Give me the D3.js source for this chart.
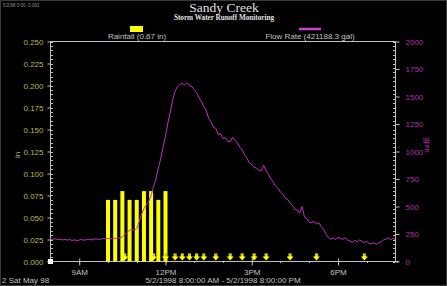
<!DOCTYPE html>
<html>
<head>
<meta charset="utf-8">
<script src="https://cdn.jsdelivr.net/npm/d3@7"></script>
<style>
  html, body { margin: 0; padding: 0; background: #000; }
  svg { display: block; font-family: "Liberation Sans", Arial, sans-serif; }
</style>
</head>
<body>
<svg id="chart" width="447" height="286"></svg>
<script>
// ---- data ----
const dayStart = new Date(1998, 4, 2, 8, 0);
const dayEnd = new Date(1998, 4, 2, 20, 0);

// rainfall, inches per 15 min, starting 10:00
const rainStart = new Date(1998, 4, 2, 10, 0);
const rainStepMin = 15;
const rainValues = [0.07, 0.07, 0.08, 0.07, 0.07, 0.08, 0.08, 0.07, 0.08];

// flow rate, gpm, every 5 min from 8:00
const flowStepMin = 5;
const flowValues = [
  205, 200, 208, 198, 203, 196, 201, 194, 199, 192, 197, 190, 195,
  200, 193, 198, 203, 196, 201, 206, 199, 204, 209, 205,
  210, 206, 212, 208, 215, 212, 225, 245, 262, 285, 292, 282,
  300, 360, 430, 480, 515, 545, 600, 680, 750, 850, 935, 1040,
  1140, 1260, 1360, 1470, 1550, 1590, 1610, 1620, 1605, 1625, 1600, 1590,
  1560, 1535, 1490, 1455, 1410, 1375, 1300, 1270, 1220, 1210, 1155, 1160,
  1120, 1125, 1090, 1090, 1130, 1100, 1080, 1040, 1015, 970, 940, 895,
  885, 855, 850, 825, 825, 875, 825, 790, 750, 720, 685, 665,
  630, 610, 575, 565, 530, 510, 475, 468, 440, 500, 405, 390,
  355, 355, 362, 342, 352, 318, 292, 248, 218, 202, 214, 198,
  224, 208, 202, 214, 196, 186, 174, 192, 178, 196, 183, 172,
  182, 163, 162, 170, 156, 170, 178, 196, 203, 214, 198, 211,
  195
];

// sampler bottle markers
const sampleTimes = ['10:35', '11:35', '12:00', '12:20', '12:35', '12:50', '13:05', '13:20',
  '13:45', '14:15', '14:40', '15:05', '15:30', '16:20', '17:15', '18:55'];
const sampleLabels = ['1', '2', '3', '4', '5', '6', '7', '8', '9', '10', '11', '12', '13', '14', '15', '16'];

const leftTicks = [0, 0.025, 0.05, 0.075, 0.1, 0.125, 0.15, 0.175, 0.2, 0.225, 0.25];
const rightTicks = [0, 250, 500, 750, 1000, 1250, 1500, 1750, 2000];
const timeTickLabels = ['9AM', '12PM', '3PM', '6PM'];

// ---- layout ----
const L = 50.5, R = 395.5, T = 41.5, B = 261.5;
const grey = '#c0c0c0';
const rainCol = '#ffff00';
const flowCol = '#c030c0';
const leftLab = '#b8b850';
const rightLab = '#b030b0';

const svg = d3.select('#chart');
svg.append('rect').attr('x', 0.5).attr('y', 0.5).attr('width', 446).attr('height', 285)
  .attr('fill', '#000').attr('stroke', '#3a3a3a');

const x = d3.scaleTime().domain([dayStart, dayEnd]).range([L, R]);
const yL = d3.scaleLinear().domain([0, 0.25]).range([B, T]);
const yR = d3.scaleLinear().domain([0, 2000]).range([B, T]);
const addMin = (d, m) => new Date(d.getTime() + m * 60000);
const parseT = s => { const [h, m] = s.split(':').map(Number); return new Date(1998, 4, 2, h, m); };

// titles
svg.append('text').attr('x', 3).attr('y', 7).attr('font-size', 4.5).attr('fill', '#909090')
  .text('5/2/98 0:00, 0.000');
svg.append('text').attr('x', 224).attr('y', 12).attr('text-anchor', 'middle')
  .attr('font-family', '"Liberation Serif", "Times New Roman", serif').attr('font-size', 13.5)
  .attr('fill', '#e0e0e0').text('Sandy Creek');
svg.append('text').attr('x', 224).attr('y', 19.5).attr('text-anchor', 'middle')
  .attr('font-family', '"Liberation Serif", "Times New Roman", serif').attr('font-size', 7.2)
  .attr('font-weight', 'bold').attr('fill', '#e0e0e0').text('Storm Water Runoff Monitoring');

// legend
svg.append('rect').attr('x', 130).attr('y', 26).attr('width', 13).attr('height', 6).attr('fill', rainCol);
svg.append('text').attr('x', 137).attr('y', 38.5).attr('text-anchor', 'middle').attr('font-size', 8)
  .attr('fill', grey).text('Rainfall (0.67 in)');
svg.append('line').attr('x1', 299).attr('x2', 321).attr('y1', 29).attr('y2', 29)
  .attr('stroke', '#d040d0').attr('stroke-width', 2.5);
svg.append('text').attr('x', 310).attr('y', 38.5).attr('text-anchor', 'middle').attr('font-size', 8)
  .attr('fill', grey).text('Flow Rate (421188.3 gal)');

// frame lines
const frame = svg.append('g').attr('stroke', grey).attr('stroke-width', 1);
frame.append('line').attr('x1', L).attr('x2', R).attr('y1', T).attr('y2', T);
frame.append('line').attr('x1', L - 3).attr('x2', R + 3).attr('y1', B).attr('y2', B);
frame.append('line').attr('x1', L).attr('x2', L).attr('y1', T).attr('y2', B);
frame.append('line').attr('x1', R).attr('x2', R).attr('y1', T).attr('y2', B);

// minor ticks
const leftMinor = d3.range(0, 51).map(i => i * 0.005);
const rightMinor = d3.range(0, 51).map(i => i * 40);
frame.selectAll('.lm').data(leftMinor).join('line')
  .attr('x1', L).attr('x2', L + 2.5).attr('y1', d => Math.round(yL(d)) + 0.5).attr('y2', d => Math.round(yL(d)) + 0.5);
frame.selectAll('.rm').data(rightMinor).join('line')
  .attr('x1', R - 2.5).attr('x2', R).attr('y1', d => Math.round(yR(d)) + 0.5).attr('y2', d => Math.round(yR(d)) + 0.5);

// left axis
const axL = svg.append('g').attr('transform', `translate(${L},0)`)
  .call(d3.axisLeft(yL).tickValues(leftTicks).tickFormat(d3.format('.3f')).tickSizeInner(3).tickSizeOuter(0).tickPadding(4));
axL.select('.domain').remove();
axL.selectAll('line').attr('stroke', grey);
axL.selectAll('text').attr('fill', leftLab).attr('font-size', 8).attr('font-family', null);

// right axis
const axR = svg.append('g').attr('transform', `translate(${R},0)`)
  .call(d3.axisRight(yR).tickValues(rightTicks).tickFormat(d3.format('d')).tickSizeInner(4).tickSizeOuter(0).tickPadding(6));
axR.select('.domain').remove();
axR.selectAll('line').attr('stroke', grey);
axR.selectAll('text').attr('fill', rightLab).attr('font-size', 8).attr('font-family', null);

// time axis
const hourTicks = d3.timeHour.range(addMin(dayStart, 60), dayEnd);
frame.selectAll('.hm').data(hourTicks).join('line')
  .attr('x1', d => Math.round(x(d)) + 0.5).attr('x2', d => Math.round(x(d)) + 0.5)
  .attr('y1', B).attr('y2', B + 1.5);
const majorTimes = hourTicks.filter(d => d.getHours() % 3 === 0);
const axX = svg.append('g').attr('transform', `translate(0,${B})`)
  .call(d3.axisBottom(x).tickValues(majorTimes).tickFormat((d, i) => timeTickLabels[i])
    .tickSizeInner(4).tickSizeOuter(0).tickPadding(4));
axX.select('.domain').remove();
axX.selectAll('line').attr('stroke', grey).attr('y1', -3);
axX.selectAll('text').attr('fill', grey).attr('font-size', 8).attr('font-family', null);

// axis titles
svg.append('text').attr('transform', 'translate(20,155) rotate(-90)').attr('text-anchor', 'middle')
  .attr('font-size', 8).attr('fill', leftLab).text('in');
svg.append('text').attr('transform', 'translate(425,145) rotate(90)').attr('text-anchor', 'middle')
  .attr('font-size', 8).attr('fill', rightLab).text('gpm');

// footer
svg.append('text').attr('x', 2).attr('y', 283).attr('font-size', 8).attr('fill', grey).text('2 Sat May 98');
svg.append('text').attr('x', 223).attr('y', 283).attr('text-anchor', 'middle').attr('font-size', 8)
  .attr('fill', grey).text('5/2/1998 8:00:00 AM - 5/2/1998 8:00:00 PM');

// rainfall bars
const rain = rainValues.map((v, i) => ({ t: addMin(rainStart, i * rainStepMin), v }));
svg.append('g').selectAll('rect').data(rain).join('rect')
  .attr('x', d => x(d.t) - 2).attr('width', 4)
  .attr('y', d => yL(d.v)).attr('height', d => yL(0) - yL(d.v))
  .attr('fill', rainCol);

// flow line
const flow = flowValues.map((v, i) => ({ t: addMin(dayStart, i * flowStepMin), v }));
svg.append('path').datum(flow)
  .attr('d', d3.line().x(d => x(d.t)).y(d => yR(d.v)))
  .attr('fill', 'none').attr('stroke', flowCol).attr('stroke-width', 1);

// sample markers
const samples = sampleTimes.map((s, i) => ({ t: parseT(s), lab: sampleLabels[i] }));
const mk = svg.append('g').selectAll('g').data(samples).join('g')
  .attr('transform', d => `translate(${x(d.t)},${B - 1})`);
mk.append('path').attr('d', 'M-1.5,-7 h3 v3 h2 l-3.5,4 l-3.5,-4 h2 z').attr('fill', rainCol);
mk.append('text').attr('y', -5).attr('text-anchor', 'middle').attr('font-size', 4)
  .attr('fill', '#707020').text(d => d.lab);

// origin marker
svg.append('rect').attr('x', L - 2.5).attr('y', B - 2.5).attr('width', 5).attr('height', 5).attr('fill', '#fff');
</script>
</body>
</html>
